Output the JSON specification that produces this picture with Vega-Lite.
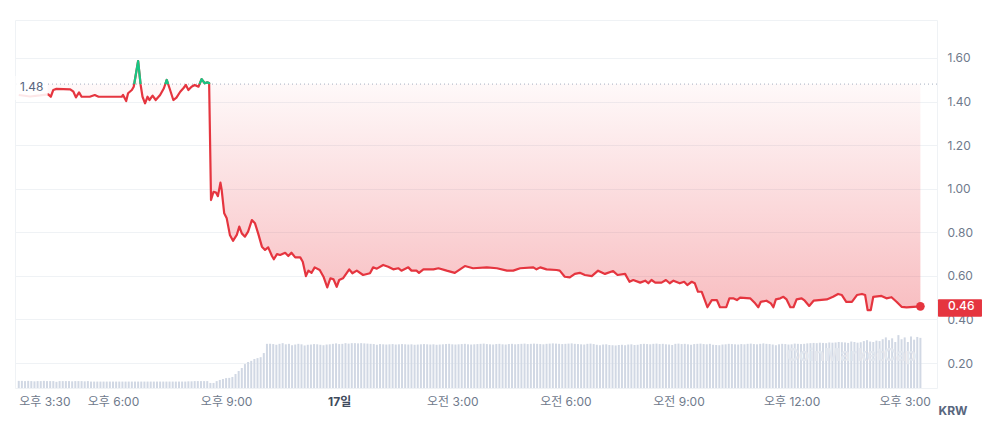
{
  "$schema": "https://vega.github.io/schema/vega-lite/v6.json",
  "width": 922,
  "height": 368,
  "autosize": "none",
  "padding": {"left": 15, "top": 20, "right": 63, "bottom": 43},
  "background": "#ffffff",
  "config": {
    "font": "Inter, 'Noto Sans CJK KR', sans-serif",
    "view": {"stroke": "#eff2f5"},
    "axis": {"labelFont": "Inter, 'Noto Sans CJK KR', sans-serif", "titleFont": "Inter, 'Noto Sans CJK KR', sans-serif"}
  },
  "datasets": {
    "price": [
      {"t":"2025-03-16T15:30","p":1.430},{"t":"2025-03-16T15:48","p":1.423},{"t":"2025-03-16T16:04","p":1.428},{"t":"2025-03-16T16:17","p":1.433},
      {"t":"2025-03-16T16:21","p":1.422},{"t":"2025-03-16T16:25","p":1.453},{"t":"2025-03-16T16:30","p":1.458},{"t":"2025-03-16T16:52","p":1.456},
      {"t":"2025-03-16T16:57","p":1.445},{"t":"2025-03-16T17:01","p":1.419},{"t":"2025-03-16T17:06","p":1.442},{"t":"2025-03-16T17:10","p":1.422},
      {"t":"2025-03-16T17:23","p":1.422},{"t":"2025-03-16T17:31","p":1.430},{"t":"2025-03-16T17:37","p":1.422},{"t":"2025-03-16T18:14","p":1.422},
      {"t":"2025-03-16T18:16","p":1.430},{"t":"2025-03-16T18:21","p":1.402},{"t":"2025-03-16T18:24","p":1.438},{"t":"2025-03-16T18:30","p":1.453},
      {"t":"2025-03-16T18:33","p":1.468},{"t":"2025-03-16T18:40","p":1.586},{"t":"2025-03-16T18:44","p":1.476},{"t":"2025-03-16T18:47","p":1.422},
      {"t":"2025-03-16T18:51","p":1.392},{"t":"2025-03-16T18:55","p":1.422},{"t":"2025-03-16T18:58","p":1.407},{"t":"2025-03-16T19:03","p":1.427},
      {"t":"2025-03-16T19:08","p":1.407},{"t":"2025-03-16T19:15","p":1.430},{"t":"2025-03-16T19:21","p":1.461},{"t":"2025-03-16T19:25:30","p":1.499},
      {"t":"2025-03-16T19:30","p":1.461},{"t":"2025-03-16T19:36","p":1.407},{"t":"2025-03-16T19:41","p":1.418},{"t":"2025-03-16T19:47","p":1.445},
      {"t":"2025-03-16T19:52","p":1.461},{"t":"2025-03-16T19:56","p":1.476},{"t":"2025-03-16T20:00","p":1.453},{"t":"2025-03-16T20:05","p":1.468},
      {"t":"2025-03-16T20:10","p":1.476},{"t":"2025-03-16T20:16","p":1.468},{"t":"2025-03-16T20:21","p":1.503},{"t":"2025-03-16T20:26","p":1.484},
      {"t":"2025-03-16T20:30","p":1.488},{"t":"2025-03-16T20:33","p":1.485},{"t":"2025-03-16T20:36","p":0.948},{"t":"2025-03-16T20:40","p":0.986},
      {"t":"2025-03-16T20:44","p":0.982},{"t":"2025-03-16T20:47","p":0.966},{"t":"2025-03-16T20:51","p":1.028},{"t":"2025-03-16T20:53","p":0.994},
      {"t":"2025-03-16T20:57","p":0.887},{"t":"2025-03-16T21:01","p":0.864},{"t":"2025-03-16T21:06","p":0.788},{"t":"2025-03-16T21:11","p":0.761},
      {"t":"2025-03-16T21:17","p":0.788},{"t":"2025-03-16T21:21","p":0.826},{"t":"2025-03-16T21:25","p":0.795},{"t":"2025-03-16T21:30","p":0.780},
      {"t":"2025-03-16T21:35","p":0.803},{"t":"2025-03-16T21:41","p":0.856},{"t":"2025-03-16T21:46","p":0.841},{"t":"2025-03-16T21:51","p":0.795},
      {"t":"2025-03-16T21:57","p":0.734},{"t":"2025-03-16T22:02","p":0.719},{"t":"2025-03-16T22:07","p":0.731},{"t":"2025-03-16T22:13","p":0.691},
      {"t":"2025-03-16T22:16","p":0.676},{"t":"2025-03-16T22:21","p":0.700},{"t":"2025-03-16T22:26","p":0.696},{"t":"2025-03-16T22:34","p":0.706},
      {"t":"2025-03-16T22:39","p":0.691},{"t":"2025-03-16T22:44","p":0.706},{"t":"2025-03-16T22:50","p":0.685},{"t":"2025-03-16T22:58","p":0.685},
      {"t":"2025-03-16T23:02","p":0.665},{"t":"2025-03-16T23:07","p":0.599},{"t":"2025-03-16T23:11","p":0.624},{"t":"2025-03-16T23:16","p":0.614},
      {"t":"2025-03-16T23:21","p":0.639},{"t":"2025-03-16T23:29","p":0.627},{"t":"2025-03-16T23:35","p":0.596},{"t":"2025-03-16T23:41","p":0.547},
      {"t":"2025-03-16T23:46","p":0.589},{"t":"2025-03-16T23:51","p":0.584},{"t":"2025-03-16T23:56","p":0.550},{"t":"2025-03-17T00:00","p":0.581},
      {"t":"2025-03-17T00:06","p":0.589},{"t":"2025-03-17T00:16","p":0.630},{"t":"2025-03-17T00:21","p":0.612},{"t":"2025-03-17T00:28","p":0.624},
      {"t":"2025-03-17T00:38","p":0.604},{"t":"2025-03-17T00:49","p":0.612},{"t":"2025-03-17T00:54","p":0.639},{"t":"2025-03-17T01:00","p":0.633},
      {"t":"2025-03-17T01:10","p":0.650},{"t":"2025-03-17T01:18","p":0.642},{"t":"2025-03-17T01:26","p":0.630},{"t":"2025-03-17T01:34","p":0.635},
      {"t":"2025-03-17T01:39","p":0.624},{"t":"2025-03-17T01:50","p":0.639},{"t":"2025-03-17T01:55","p":0.624},{"t":"2025-03-17T02:03","p":0.624},
      {"t":"2025-03-17T02:07","p":0.614},{"t":"2025-03-17T02:14","p":0.630},{"t":"2025-03-17T02:30","p":0.630},{"t":"2025-03-17T02:38","p":0.635},
      {"t":"2025-03-17T02:51","p":0.624},{"t":"2025-03-17T03:04","p":0.614},{"t":"2025-03-17T03:20","p":0.645},{"t":"2025-03-17T03:33","p":0.635},
      {"t":"2025-03-17T03:55","p":0.639},{"t":"2025-03-17T04:11","p":0.635},{"t":"2025-03-17T04:27","p":0.624},{"t":"2025-03-17T04:37","p":0.624},
      {"t":"2025-03-17T04:48","p":0.635},{"t":"2025-03-17T05:09","p":0.639},{"t":"2025-03-17T05:14","p":0.630},{"t":"2025-03-17T05:20","p":0.639},
      {"t":"2025-03-17T05:30","p":0.630},{"t":"2025-03-17T05:46","p":0.627},{"t":"2025-03-17T05:51","p":0.624},{"t":"2025-03-17T05:59","p":0.596},
      {"t":"2025-03-17T06:07","p":0.593},{"t":"2025-03-17T06:15","p":0.609},{"t":"2025-03-17T06:23","p":0.614},{"t":"2025-03-17T06:31","p":0.604},
      {"t":"2025-03-17T06:42","p":0.599},{"t":"2025-03-17T06:52","p":0.624},{"t":"2025-03-17T07:03","p":0.609},{"t":"2025-03-17T07:16","p":0.622},
      {"t":"2025-03-17T07:23","p":0.604},{"t":"2025-03-17T07:35","p":0.609},{"t":"2025-03-17T07:42","p":0.573},{"t":"2025-03-17T07:48","p":0.581},
      {"t":"2025-03-17T07:59","p":0.569},{"t":"2025-03-17T08:07","p":0.578},{"t":"2025-03-17T08:12","p":0.566},{"t":"2025-03-17T08:17","p":0.581},
      {"t":"2025-03-17T08:23","p":0.569},{"t":"2025-03-17T08:33","p":0.569},{"t":"2025-03-17T08:40","p":0.581},{"t":"2025-03-17T08:46","p":0.566},
      {"t":"2025-03-17T08:52","p":0.578},{"t":"2025-03-17T09:02","p":0.566},{"t":"2025-03-17T09:09","p":0.573},{"t":"2025-03-17T09:14","p":0.558},
      {"t":"2025-03-17T09:21","p":0.573},{"t":"2025-03-17T09:26","p":0.566},{"t":"2025-03-17T09:31","p":0.527},{"t":"2025-03-17T09:37","p":0.527},
      {"t":"2025-03-17T09:46","p":0.456},{"t":"2025-03-17T09:53","p":0.489},{"t":"2025-03-17T10:01","p":0.489},{"t":"2025-03-17T10:06","p":0.456},
      {"t":"2025-03-17T10:16","p":0.456},{"t":"2025-03-17T10:21","p":0.497},{"t":"2025-03-17T10:27","p":0.497},{"t":"2025-03-17T10:33","p":0.489},
      {"t":"2025-03-17T10:38","p":0.500},{"t":"2025-03-17T10:54","p":0.497},{"t":"2025-03-17T11:02","p":0.474},{"t":"2025-03-17T11:07","p":0.456},
      {"t":"2025-03-17T11:11","p":0.481},{"t":"2025-03-17T11:20","p":0.486},{"t":"2025-03-17T11:27","p":0.474},{"t":"2025-03-17T11:31","p":0.456},
      {"t":"2025-03-17T11:35","p":0.492},{"t":"2025-03-17T11:42","p":0.497},{"t":"2025-03-17T11:47","p":0.504},{"t":"2025-03-17T11:52","p":0.492},
      {"t":"2025-03-17T11:58","p":0.456},{"t":"2025-03-17T12:03","p":0.456},{"t":"2025-03-17T12:08","p":0.492},{"t":"2025-03-17T12:16","p":0.497},
      {"t":"2025-03-17T12:21","p":0.486},{"t":"2025-03-17T12:28","p":0.462},{"t":"2025-03-17T12:35","p":0.486},{"t":"2025-03-17T12:56","p":0.492},
      {"t":"2025-03-17T13:06","p":0.504},{"t":"2025-03-17T13:14","p":0.517},{"t":"2025-03-17T13:20","p":0.512},{"t":"2025-03-17T13:27","p":0.481},
      {"t":"2025-03-17T13:36","p":0.481},{"t":"2025-03-17T13:44","p":0.512},{"t":"2025-03-17T13:52","p":0.517},{"t":"2025-03-17T13:57","p":0.512},
      {"t":"2025-03-17T14:01","p":0.443},{"t":"2025-03-17T14:06","p":0.443},{"t":"2025-03-17T14:10","p":0.504},{"t":"2025-03-17T14:23","p":0.508},
      {"t":"2025-03-17T14:31","p":0.497},{"t":"2025-03-17T14:39","p":0.502},{"t":"2025-03-17T14:47","p":0.481},{"t":"2025-03-17T14:55","p":0.458},
      {"t":"2025-03-17T15:03","p":0.455},{"t":"2025-03-17T15:14","p":0.458},{"t":"2025-03-17T15:25","p":0.460}
    ],
    "green": [
      {"t":"2025-03-16T18:33:43","p":1.48,"s":1},{"t":"2025-03-16T18:40","p":1.586,"s":1},{"t":"2025-03-16T18:43:51","p":1.48,"s":1},
      {"t":"2025-03-16T19:23:15","p":1.48,"s":2},{"t":"2025-03-16T19:25:30","p":1.499,"s":2},{"t":"2025-03-16T19:27:45","p":1.48,"s":2},
      {"t":"2025-03-16T20:17:43","p":1.48,"s":3},{"t":"2025-03-16T20:21","p":1.503,"s":3},{"t":"2025-03-16T20:26","p":1.484,"s":3},
      {"t":"2025-03-16T20:30","p":1.488,"s":3},{"t":"2025-03-16T20:33","p":1.485,"s":3},{"t":"2025-03-16T20:33:02","p":1.48,"s":3}
    ],
    "last": [{"t":"2025-03-17T15:25","p":0.46}],
    "vol": [
      {"t":"2025-03-16T15:30","v":155},{"t":"2025-03-16T15:35","v":155},{"t":"2025-03-16T15:40","v":150},{"t":"2025-03-16T15:45","v":155},{"t":"2025-03-16T15:50","v":150},{"t":"2025-03-16T15:55","v":145},
      {"t":"2025-03-16T16:00","v":150},{"t":"2025-03-16T16:05","v":150},{"t":"2025-03-16T16:10","v":155},{"t":"2025-03-16T16:15","v":150},{"t":"2025-03-16T16:20","v":150},{"t":"2025-03-16T16:25","v":150},
      {"t":"2025-03-16T16:30","v":135},{"t":"2025-03-16T16:35","v":150},{"t":"2025-03-16T16:40","v":150},{"t":"2025-03-16T16:45","v":150},{"t":"2025-03-16T16:50","v":150},{"t":"2025-03-16T16:55","v":145},
      {"t":"2025-03-16T17:00","v":150},{"t":"2025-03-16T17:05","v":150},{"t":"2025-03-16T17:10","v":150},{"t":"2025-03-16T17:15","v":145},{"t":"2025-03-16T17:20","v":150},{"t":"2025-03-16T17:25","v":140},
      {"t":"2025-03-16T17:30","v":140},{"t":"2025-03-16T17:35","v":140},{"t":"2025-03-16T17:40","v":140},{"t":"2025-03-16T17:45","v":140},{"t":"2025-03-16T17:50","v":140},{"t":"2025-03-16T17:55","v":140},
      {"t":"2025-03-16T18:00","v":140},{"t":"2025-03-16T18:05","v":140},{"t":"2025-03-16T18:10","v":140},{"t":"2025-03-16T18:15","v":140},{"t":"2025-03-16T18:20","v":140},{"t":"2025-03-16T18:25","v":140},
      {"t":"2025-03-16T18:30","v":140},{"t":"2025-03-16T18:35","v":140},{"t":"2025-03-16T18:40","v":140},{"t":"2025-03-16T18:45","v":140},{"t":"2025-03-16T18:50","v":140},{"t":"2025-03-16T18:55","v":140},
      {"t":"2025-03-16T19:00","v":140},{"t":"2025-03-16T19:05","v":140},{"t":"2025-03-16T19:10","v":140},{"t":"2025-03-16T19:15","v":140},{"t":"2025-03-16T19:20","v":140},{"t":"2025-03-16T19:25","v":140},
      {"t":"2025-03-16T19:30","v":140},{"t":"2025-03-16T19:35","v":140},{"t":"2025-03-16T19:40","v":140},{"t":"2025-03-16T19:45","v":140},{"t":"2025-03-16T19:50","v":140},{"t":"2025-03-16T19:55","v":140},
      {"t":"2025-03-16T20:00","v":145},{"t":"2025-03-16T20:05","v":145},{"t":"2025-03-16T20:10","v":150},{"t":"2025-03-16T20:15","v":150},{"t":"2025-03-16T20:20","v":150},{"t":"2025-03-16T20:25","v":150},
      {"t":"2025-03-16T20:30","v":150},{"t":"2025-03-16T20:35","v":110},{"t":"2025-03-16T20:40","v":110},{"t":"2025-03-16T20:45","v":150},{"t":"2025-03-16T20:50","v":175},{"t":"2025-03-16T20:55","v":195},
      {"t":"2025-03-16T21:00","v":215},{"t":"2025-03-16T21:05","v":220},{"t":"2025-03-16T21:10","v":240},{"t":"2025-03-16T21:15","v":305},{"t":"2025-03-16T21:20","v":370},{"t":"2025-03-16T21:25","v":435},
      {"t":"2025-03-16T21:30","v":520},{"t":"2025-03-16T21:35","v":565},{"t":"2025-03-16T21:40","v":590},{"t":"2025-03-16T21:45","v":630},{"t":"2025-03-16T21:50","v":650},{"t":"2025-03-16T21:55","v":670},
      {"t":"2025-03-16T22:00","v":760},{"t":"2025-03-16T22:05","v":960},{"t":"2025-03-16T22:10","v":960},{"t":"2025-03-16T22:15","v":955},{"t":"2025-03-16T22:20","v":940},{"t":"2025-03-16T22:25","v":960},
      {"t":"2025-03-16T22:30","v":975},{"t":"2025-03-16T22:35","v":950},{"t":"2025-03-16T22:40","v":960},{"t":"2025-03-16T22:45","v":930},{"t":"2025-03-16T22:50","v":945},{"t":"2025-03-16T22:55","v":960},
      {"t":"2025-03-16T23:00","v":950},{"t":"2025-03-16T23:05","v":925},{"t":"2025-03-16T23:10","v":940},{"t":"2025-03-16T23:15","v":945},{"t":"2025-03-16T23:20","v":955},{"t":"2025-03-16T23:25","v":950},
      {"t":"2025-03-16T23:30","v":940},{"t":"2025-03-16T23:35","v":930},{"t":"2025-03-16T23:40","v":945},{"t":"2025-03-16T23:45","v":950},{"t":"2025-03-16T23:50","v":960},{"t":"2025-03-16T23:55","v":970},
      {"t":"2025-03-17T00:00","v":955},{"t":"2025-03-17T00:05","v":960},{"t":"2025-03-17T00:10","v":975},{"t":"2025-03-17T00:15","v":965},{"t":"2025-03-17T00:20","v":975},{"t":"2025-03-17T00:25","v":975},
      {"t":"2025-03-17T00:30","v":970},{"t":"2025-03-17T00:35","v":975},{"t":"2025-03-17T00:40","v":970},{"t":"2025-03-17T00:45","v":965},{"t":"2025-03-17T00:50","v":960},{"t":"2025-03-17T00:55","v":955},
      {"t":"2025-03-17T01:00","v":940},{"t":"2025-03-17T01:05","v":955},{"t":"2025-03-17T01:10","v":950},{"t":"2025-03-17T01:15","v":945},{"t":"2025-03-17T01:20","v":950},{"t":"2025-03-17T01:25","v":955},
      {"t":"2025-03-17T01:30","v":945},{"t":"2025-03-17T01:35","v":950},{"t":"2025-03-17T01:40","v":955},{"t":"2025-03-17T01:45","v":950},{"t":"2025-03-17T01:50","v":945},{"t":"2025-03-17T01:55","v":950},
      {"t":"2025-03-17T02:00","v":940},{"t":"2025-03-17T02:05","v":945},{"t":"2025-03-17T02:10","v":950},{"t":"2025-03-17T02:15","v":955},{"t":"2025-03-17T02:20","v":950},{"t":"2025-03-17T02:25","v":945},
      {"t":"2025-03-17T02:30","v":950},{"t":"2025-03-17T02:35","v":940},{"t":"2025-03-17T02:40","v":945},{"t":"2025-03-17T02:45","v":950},{"t":"2025-03-17T02:50","v":955},{"t":"2025-03-17T02:55","v":960},
      {"t":"2025-03-17T03:00","v":950},{"t":"2025-03-17T03:05","v":945},{"t":"2025-03-17T03:10","v":950},{"t":"2025-03-17T03:15","v":955},{"t":"2025-03-17T03:20","v":960},{"t":"2025-03-17T03:25","v":950},
      {"t":"2025-03-17T03:30","v":945},{"t":"2025-03-17T03:35","v":950},{"t":"2025-03-17T03:40","v":955},{"t":"2025-03-17T03:45","v":960},{"t":"2025-03-17T03:50","v":965},{"t":"2025-03-17T03:55","v":955},
      {"t":"2025-03-17T04:00","v":950},{"t":"2025-03-17T04:05","v":945},{"t":"2025-03-17T04:10","v":955},{"t":"2025-03-17T04:15","v":960},{"t":"2025-03-17T04:20","v":950},{"t":"2025-03-17T04:25","v":945},
      {"t":"2025-03-17T04:30","v":955},{"t":"2025-03-17T04:35","v":960},{"t":"2025-03-17T04:40","v":950},{"t":"2025-03-17T04:45","v":955},{"t":"2025-03-17T04:50","v":960},{"t":"2025-03-17T04:55","v":965},
      {"t":"2025-03-17T05:00","v":955},{"t":"2025-03-17T05:05","v":960},{"t":"2025-03-17T05:10","v":965},{"t":"2025-03-17T05:15","v":960},{"t":"2025-03-17T05:20","v":955},{"t":"2025-03-17T05:25","v":950},
      {"t":"2025-03-17T05:30","v":960},{"t":"2025-03-17T05:35","v":965},{"t":"2025-03-17T05:40","v":970},{"t":"2025-03-17T05:45","v":965},{"t":"2025-03-17T05:50","v":960},{"t":"2025-03-17T05:55","v":955},
      {"t":"2025-03-17T06:00","v":960},{"t":"2025-03-17T06:05","v":965},{"t":"2025-03-17T06:10","v":970},{"t":"2025-03-17T06:15","v":960},{"t":"2025-03-17T06:20","v":955},{"t":"2025-03-17T06:25","v":950},
      {"t":"2025-03-17T06:30","v":945},{"t":"2025-03-17T06:35","v":960},{"t":"2025-03-17T06:40","v":965},{"t":"2025-03-17T06:45","v":955},{"t":"2025-03-17T06:50","v":940},{"t":"2025-03-17T06:55","v":930},
      {"t":"2025-03-17T07:00","v":945},{"t":"2025-03-17T07:05","v":950},{"t":"2025-03-17T07:10","v":935},{"t":"2025-03-17T07:15","v":930},{"t":"2025-03-17T07:20","v":925},{"t":"2025-03-17T07:25","v":935},
      {"t":"2025-03-17T07:30","v":940},{"t":"2025-03-17T07:35","v":930},{"t":"2025-03-17T07:40","v":945},{"t":"2025-03-17T07:45","v":950},{"t":"2025-03-17T07:50","v":935},{"t":"2025-03-17T07:55","v":940},
      {"t":"2025-03-17T08:00","v":955},{"t":"2025-03-17T08:05","v":960},{"t":"2025-03-17T08:10","v":955},{"t":"2025-03-17T08:15","v":950},{"t":"2025-03-17T08:20","v":960},{"t":"2025-03-17T08:25","v":965},
      {"t":"2025-03-17T08:30","v":955},{"t":"2025-03-17T08:35","v":960},{"t":"2025-03-17T08:40","v":950},{"t":"2025-03-17T08:45","v":945},{"t":"2025-03-17T08:50","v":935},{"t":"2025-03-17T08:55","v":960},
      {"t":"2025-03-17T09:00","v":965},{"t":"2025-03-17T09:05","v":955},{"t":"2025-03-17T09:10","v":960},{"t":"2025-03-17T09:15","v":950},{"t":"2025-03-17T09:20","v":940},{"t":"2025-03-17T09:25","v":955},
      {"t":"2025-03-17T09:30","v":960},{"t":"2025-03-17T09:35","v":965},{"t":"2025-03-17T09:40","v":955},{"t":"2025-03-17T09:45","v":950},{"t":"2025-03-17T09:50","v":960},{"t":"2025-03-17T09:55","v":940},
      {"t":"2025-03-17T10:00","v":935},{"t":"2025-03-17T10:05","v":930},{"t":"2025-03-17T10:10","v":945},{"t":"2025-03-17T10:15","v":950},{"t":"2025-03-17T10:20","v":960},{"t":"2025-03-17T10:25","v":955},
      {"t":"2025-03-17T10:30","v":950},{"t":"2025-03-17T10:35","v":945},{"t":"2025-03-17T10:40","v":955},{"t":"2025-03-17T10:45","v":950},{"t":"2025-03-17T10:50","v":960},{"t":"2025-03-17T10:55","v":965},
      {"t":"2025-03-17T11:00","v":955},{"t":"2025-03-17T11:05","v":950},{"t":"2025-03-17T11:10","v":960},{"t":"2025-03-17T11:15","v":970},{"t":"2025-03-17T11:20","v":960},{"t":"2025-03-17T11:25","v":955},
      {"t":"2025-03-17T11:30","v":945},{"t":"2025-03-17T11:35","v":930},{"t":"2025-03-17T11:40","v":950},{"t":"2025-03-17T11:45","v":960},{"t":"2025-03-17T11:50","v":955},{"t":"2025-03-17T11:55","v":945},
      {"t":"2025-03-17T12:00","v":950},{"t":"2025-03-17T12:05","v":965},{"t":"2025-03-17T12:10","v":960},{"t":"2025-03-17T12:15","v":955},{"t":"2025-03-17T12:20","v":960},{"t":"2025-03-17T12:25","v":970},
      {"t":"2025-03-17T12:30","v":975},{"t":"2025-03-17T12:35","v":980},{"t":"2025-03-17T12:40","v":975},{"t":"2025-03-17T12:45","v":985},{"t":"2025-03-17T12:50","v":980},{"t":"2025-03-17T12:55","v":975},
      {"t":"2025-03-17T13:00","v":990},{"t":"2025-03-17T13:05","v":985},{"t":"2025-03-17T13:10","v":990},{"t":"2025-03-17T13:15","v":1000},{"t":"2025-03-17T13:20","v":995},{"t":"2025-03-17T13:25","v":990},
      {"t":"2025-03-17T13:30","v":980},{"t":"2025-03-17T13:35","v":1010},{"t":"2025-03-17T13:40","v":1000},{"t":"2025-03-17T13:45","v":985},{"t":"2025-03-17T13:50","v":995},{"t":"2025-03-17T13:55","v":1020},
      {"t":"2025-03-17T14:00","v":1040},{"t":"2025-03-17T14:05","v":1010},{"t":"2025-03-17T14:10","v":1000},{"t":"2025-03-17T14:15","v":1030},{"t":"2025-03-17T14:20","v":1020},{"t":"2025-03-17T14:25","v":1060},
      {"t":"2025-03-17T14:30","v":1100},{"t":"2025-03-17T14:35","v":1040},{"t":"2025-03-17T14:40","v":1080},{"t":"2025-03-17T14:45","v":1000},{"t":"2025-03-17T14:50","v":1150},{"t":"2025-03-17T14:55","v":1060},
      {"t":"2025-03-17T15:00","v":1100},{"t":"2025-03-17T15:05","v":1000},{"t":"2025-03-17T15:10","v":1120},{"t":"2025-03-17T15:15","v":1050},{"t":"2025-03-17T15:20","v":1110},{"t":"2025-03-17T15:25","v":1090}
    ]
  },
  "resolve": {"scale": {"y": "independent"}},
  "layer": [
    {
      "data": {"name": "vol"},
      "mark": {"type": "bar", "width": 2, "color": "#d1d8e4"},
      "encoding": {
        "x": {
          "field": "t", "type": "temporal",
          "scale": {"padding": 0, "domain": [
            {"year": 2025, "month": 3, "date": 16, "hours": 15, "minutes": 24, "seconds": 2},
            {"year": 2025, "month": 3, "date": 17, "hours": 15, "minutes": 51, "seconds": 25}
          ]},
          "axis": {
            "title": null,
            "values": [
              {"year": 2025, "month": 3, "date": 16, "hours": 15, "minutes": 30},
              {"year": 2025, "month": 3, "date": 16, "hours": 18},
              {"year": 2025, "month": 3, "date": 16, "hours": 21},
              {"year": 2025, "month": 3, "date": 17, "hours": 0},
              {"year": 2025, "month": 3, "date": 17, "hours": 3},
              {"year": 2025, "month": 3, "date": 17, "hours": 6},
              {"year": 2025, "month": 3, "date": 17, "hours": 9},
              {"year": 2025, "month": 3, "date": 17, "hours": 12},
              {"year": 2025, "month": 3, "date": 17, "hours": 15}
            ],
            "labelExpr": "hours(datum.value) == 0 ? '17일' : (hours(datum.value) < 12 ? '오전 ' : '오후 ') + (hours(datum.value) % 12 == 0 ? 12 : hours(datum.value) % 12) + ':' + timeFormat(datum.value, '%M')",
            "grid": false, "domain": false, "ticks": false, "tickSize": 0,
            "labelPadding": 8, "labelFontSize": 12, "labelOverlap": false,
            "labelColor": {"condition": {"test": "hours(datum.value) == 0", "value": "#3f4a5c"}, "value": "#6f7a8c"},
            "labelFontWeight": {"condition": {"test": "hours(datum.value) == 0", "value": "bold"}, "value": "normal"},
            "labelAlign": {"condition": {"test": "hours(datum.value) == 15 && minutes(datum.value) == 30", "value": "left"}, "value": "center"}
          }
        },
        "y": {"field": "v", "type": "quantitative", "scale": {"domain": [0, 8000]}, "axis": null}
      }
    },
    {
      "layer": [
        {
          "data": {"name": "price"},
          "mark": {"type": "area", "color": {"gradient": "linear", "x1": 0, "y1": 0, "x2": 0, "y2": 1,
            "stops": [{"offset": 0, "color": "rgba(234,57,67,0)"}, {"offset": 1, "color": "rgba(234,57,67,0.33)"}]}},
          "encoding": {
            "x": {"field": "t", "type": "temporal"},
            "y": {"field": "p", "type": "quantitative",
              "scale": {"domain": [0.0854, 1.7742], "nice": false, "zero": false},
              "axis": {
                "orient": "right", "values": [0.2, 0.4, 0.6, 0.8, 1.0, 1.2, 1.4, 1.6], "format": ".2f",
                "grid": true, "gridColor": "#eff2f5", "domain": false, "ticks": false, "tickSize": 0,
                "labelPadding": 10, "labelFontSize": 12, "labelColor": "#6f7a8c",
                "title": "KRW", "titleAngle": 0, "titleX": 1, "titleY": 390, "titleAlign": "left", "titleBaseline": "middle",
                "titleFontSize": 12, "titleFontWeight": "bold", "titleColor": "#58667e"
              }
            },
            "y2": {"datum": 1.48}
          }
        },
        {
          "data": {"values": [{}]},
          "mark": {"type": "rule", "strokeDash": [1, 3], "color": "#a7b1c2", "strokeWidth": 1},
          "encoding": {"y": {"datum": 1.48, "type": "quantitative"}}
        },
        {
          "data": {"name": "price"},
          "mark": {"type": "line", "color": "#e5353f", "strokeWidth": 2.2, "strokeJoin": "round"},
          "encoding": {"x": {"field": "t", "type": "temporal"}, "y": {"field": "p", "type": "quantitative"}}
        },
        {
          "data": {"name": "green"},
          "mark": {"type": "line", "color": "#16c784", "strokeWidth": 2.2, "strokeJoin": "round"},
          "encoding": {"x": {"field": "t", "type": "temporal"}, "y": {"field": "p", "type": "quantitative"}, "detail": {"field": "s"}}
        },
        {
          "data": {"name": "last"},
          "mark": {"type": "circle", "color": "#e5353f", "size": 75, "opacity": 1},
          "encoding": {"x": {"field": "t", "type": "temporal"}, "y": {"field": "p", "type": "quantitative"}}
        },
        {
          "data": {"values": [{}]},
          "mark": {"type": "rect", "color": "#ffffff", "opacity": 0.88},
          "encoding": {
            "x": {"datum": {"year": 2025, "month": 3, "date": 16, "hours": 15, "minutes": 24, "seconds": 30}, "type": "temporal"},
            "x2": {"datum": {"year": 2025, "month": 3, "date": 16, "hours": 16, "minutes": 16}},
            "y": {"datum": 1.517, "type": "quantitative"},
            "y2": {"datum": 1.407}
          }
        },
        {
          "data": {"values": [{}]},
          "mark": {"type": "text", "text": "1.48", "align": "left", "baseline": "middle", "dy": 3, "fontSize": 12, "color": "#58667e", "font": "Inter, 'Noto Sans CJK KR', sans-serif"},
          "encoding": {
            "x": {"datum": {"year": 2025, "month": 3, "date": 16, "hours": 15, "minutes": 32}, "type": "temporal"},
            "y": {"datum": 1.48, "type": "quantitative"}
          }
        },
        {
          "data": {"values": [{}]},
          "mark": {"type": "text", "text": "CoinMarketCap", "align": "center", "baseline": "middle", "fontSize": 17, "fontWeight": "bold", "color": "#e3e7ee", "font": "Inter, 'Noto Sans CJK KR', sans-serif"},
          "encoding": {
            "x": {"datum": {"year": 2025, "month": 3, "date": 17, "hours": 13, "minutes": 35}, "type": "temporal"},
            "y": {"datum": 0.232, "type": "quantitative"}
          }
        },
        {
          "data": {"values": [{}]},
          "mark": {"type": "rect", "color": "#e5353f", "cornerRadius": 1},
          "encoding": {
            "x": {"datum": {"year": 2025, "month": 3, "date": 17, "hours": 15, "minutes": 53}, "type": "temporal"},
            "x2": {"datum": {"year": 2025, "month": 3, "date": 17, "hours": 17, "minutes": 3}},
            "y": {"datum": 0.4924, "type": "quantitative"},
            "y2": {"datum": 0.4126}
          }
        },
        {
          "data": {"values": [{}]},
          "mark": {"type": "text", "text": "0.46", "align": "left", "baseline": "middle", "fontSize": 12, "fontWeight": 500, "color": "#ffffff", "font": "Inter, 'Noto Sans CJK KR', sans-serif"},
          "encoding": {
            "x": {"datum": {"year": 2025, "month": 3, "date": 17, "hours": 16, "minutes": 9}, "type": "temporal"},
            "y": {"datum": 0.46, "type": "quantitative"}
          }
        }
      ]
    }
  ]
}
